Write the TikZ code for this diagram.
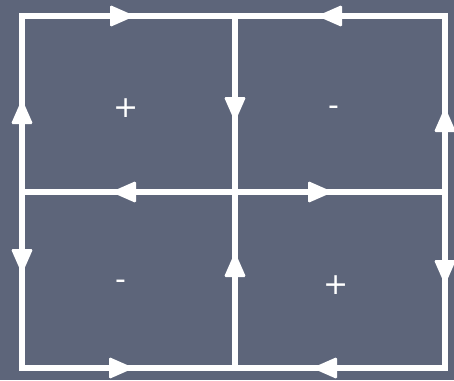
\documentclass[tikz,border=0pt]{standalone}
\usepackage{fontspec}
\setmainfont{DejaVu Sans}
\definecolor{slate}{RGB}{93,101,122}
\tikzset{
  wire/.style={draw=white, line width=6pt, line cap=rect, line join=miter},
  pics/arrowhead/.style={code={\fill[white, rounded corners=1.5pt] (-12,-11) -- (13,0) -- (-12,11) -- cycle;}},
  sign/.style={text=white, font=\fontsize{30}{30}\selectfont, inner sep=0pt}
}
\begin{document}
\begin{tikzpicture}[x=1pt, y=-1pt]
\fill[slate] (0,0) rectangle (454,380);
\useasboundingbox (0,0) rectangle (454,380);
\coordinate (TL) at (22,16);  \coordinate (TM) at (235,16);  \coordinate (TR) at (445,16);
\coordinate (ML) at (22,192); \coordinate (MM) at (235,192); \coordinate (MR) at (445,192);
\coordinate (BL) at (22,368); \coordinate (BM) at (235,368); \coordinate (BR) at (445,368);
\draw[wire] (TL) -- (TR) -- (BR) -- (BL) -- cycle;
\draw[wire] (TM) -- (BM);
\draw[wire] (ML) -- (MR);
% arrowheads (y axis points down, so rotate=90 points up)
\pic[rotate=0]   at (122,16)  {arrowhead};
\pic[rotate=180] at (330,16)  {arrowhead};
\pic[rotate=90]  at (22,112)  {arrowhead};
\pic[rotate=-90] at (235,109) {arrowhead};
\pic[rotate=90]  at (445,120) {arrowhead};
\pic[rotate=180] at (124,192) {arrowhead};
\pic[rotate=0]   at (320,192) {arrowhead};
\pic[rotate=-90] at (22,261)  {arrowhead};
\pic[rotate=90]  at (235,265) {arrowhead};
\pic[rotate=-90] at (445,272) {arrowhead};
\pic[rotate=0]   at (121,368) {arrowhead};
\pic[rotate=180] at (325,368) {arrowhead};
\node[sign] (p1) at (126,108) {+};
\node[sign] (m1) at (334,111) {-};
\node[sign] (m2) at (121,285) {-};
\node[sign] (p2) at (336,285) {+};
\end{tikzpicture}
\end{document}
